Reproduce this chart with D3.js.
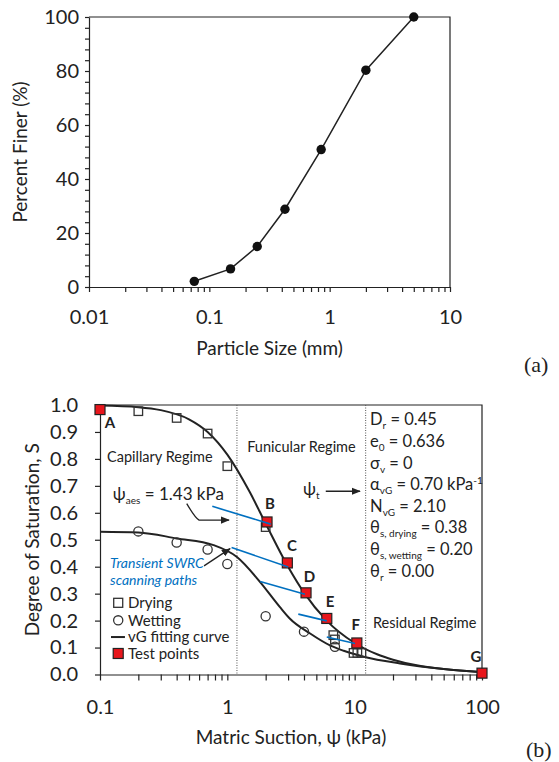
<!DOCTYPE html>
<html>
<head>
<meta charset="utf-8">
<script src="https://cdn.jsdelivr.net/npm/d3@7"></script>
<style>
  body { margin: 0; background: #fff; }
  svg text { font-family: Lato, "Noto Sans", sans-serif; fill: #222; }
  .tick line, .domain { stroke: #222; }
</style>
</head>
<body>
<div id="chart"></div>
<script>
// ---- DATA: (a) grain size distribution ----
const sieveSize = [0.075, 0.15, 0.25, 0.425, 0.85, 2.0, 5.0];
const percentFiner = [2.1, 6.7, 15.0, 28.8, 50.9, 80.3, 100];

// ---- DATA: (b) SWRC ----
const dryPsi = [0.2, 0.4, 0.7, 1.0, 2.0, 6.8, 7.0, 9.8, 10.5, 11.3];
const dryS = [0.977, 0.952, 0.894, 0.773, 0.547, 0.146, 0.13, 0.08, 0.08, 0.08];
const wetPsi = [0.2, 0.4, 0.7, 1.0, 2.0, 4.0, 7.0];
const wetS = [0.531, 0.49, 0.464, 0.41, 0.216, 0.159, 0.103];
const testLabels = ["A", "B", "C", "D", "E", "F", "G"];
const testPsi = [0.1, 2.05, 2.96, 4.15, 6.04, 10.4, 100];
const testS = [0.983, 0.566, 0.414, 0.303, 0.208, 0.117, 0.005];
const fitDryPsi = [0.1, 0.2, 0.3, 0.5, 0.7, 1.0, 1.5, 2, 3, 4, 6, 10, 15, 20, 30, 50, 100];
const fitDryS = [0.998, 0.992, 0.981, 0.947, 0.900, 0.816, 0.677, 0.560, 0.400, 0.304, 0.201, 0.117, 0.075, 0.055, 0.035, 0.020, 0.009];
const fitWetPsi = [0.1, 0.2, 0.4, 0.78, 1.19, 1.81, 2.58, 3.09, 4.47, 6.4, 8.2, 12, 22.7, 50, 100];
const fitWetS = [0.53, 0.527, 0.505, 0.48, 0.436, 0.343, 0.251, 0.208, 0.152, 0.108, 0.088, 0.065, 0.041, 0.02, 0.008];
// transient scanning paths (blue), start -> end
const scanFromPsi = [0.762, 1.08, 1.81, 3.61, 6.04];
const scanFromS = [0.624, 0.471, 0.345, 0.224, 0.139];
const scanToPsi = [2.19, 3.01, 4.07, 6.04, 10.07];
const scanToS = [0.558, 0.399, 0.298, 0.199, 0.115];
const regimeBounds = [1.19, 12.2];
const paramLines = [
  { sym: "D", sub: "r", val: " = 0.45" },
  { sym: "e", sub: "0", val: " = 0.636" },
  { sym: "σ", sub: "v", val: " = 0" },
  { sym: "α", sub: "vG", val: " = 0.70 kPa", sup: "-1" },
  { sym: "N", sub: "vG", val: " = 2.10" },
  { sym: "θ", sub: "s, drying", val: " = 0.38" },
  { sym: "θ", sub: "s, wetting", val: " = 0.20" },
  { sym: "θ", sub: "r", val: " = 0.00" }
];

const isDecade = d => Math.abs(Math.log10(d) - Math.round(Math.log10(d))) < 1e-9;
const ink = "#222";
const blue = "#0070C0";

const svg = d3.select("#chart").append("svg")
  .attr("width", 559).attr("height", 762);

// ==========================================
//         CHART (a)
// ==========================================
const mA = { top: 17, left: 89 };
const wA = 361, hA = 270;
const gA = svg.append("g").attr("transform", `translate(${mA.left},${mA.top})`);

const xSize = d3.scaleLog().domain([0.01, 10]).range([0, wA]);
const yPct = d3.scaleLinear().domain([0, 100]).range([hA, 0]);

gA.append("g")
  .attr("transform", `translate(0,${hA})`)
  .call(d3.axisBottom(xSize).tickValues(xSize.ticks()).tickSize(5).tickSizeOuter(0).tickPadding(18)
    .tickFormat(d => isDecade(d) ? String(+d.toPrecision(3)) : ""));
gA.append("g")
  .call(d3.axisLeft(yPct).tickValues(d3.range(0, 101, 4)).tickSize(4).tickSizeOuter(0).tickPadding(6)
    .tickFormat(d => d % 20 === 0 ? d : ""));
// frame top/right
gA.append("path")
  .attr("d", `M0,0H${wA}V${hA}`)
  .attr("fill", "none").attr("stroke", ink).attr("stroke-width", 1.2);

gA.selectAll(".tick text").style("font-size", "20px");
gA.selectAll(".domain, .tick line").attr("stroke-width", 1.2);

const gsd = sieveSize.map((s, i) => ({ s, p: percentFiner[i] }));
gA.append("path")
  .datum(gsd)
  .attr("d", d3.line().x(d => xSize(d.s)).y(d => yPct(d.p)))
  .attr("fill", "none").attr("stroke", ink).attr("stroke-width", 1.5);
gA.selectAll(".pt").data(gsd).enter().append("circle")
  .attr("cx", d => xSize(d.s)).attr("cy", d => yPct(d.p))
  .attr("r", 4.7).attr("fill", "#111");

gA.append("text")
  .attr("text-anchor", "middle")
  .attr("x", wA / 2).attr("y", hA + 68)
  .style("font-size", "19px")
  .text("Particle Size (mm)");
gA.append("text")
  .attr("text-anchor", "middle")
  .attr("transform", "rotate(-90)")
  .attr("x", -hA / 2).attr("y", -62)
  .style("font-size", "19px")
  .text("Percent Finer (%)");

svg.append("text")
  .attr("x", 524).attr("y", 372)
  .style("font-family", "'Liberation Serif', serif").style("font-size", "22px")
  .text("(a)");

// ==========================================
//         CHART (b)
// ==========================================
const mB = { top: 405, left: 100 };
const wB = 382, hB = 269.5;
const gB = svg.append("g").attr("transform", `translate(${mB.left},${mB.top})`);

const xPsi = d3.scaleLog().domain([0.1, 100]).range([0, wB]);
const yS = d3.scaleLinear().domain([0, 1]).range([hB, 0]);

gB.append("g")
  .attr("transform", `translate(0,${hB})`)
  .call(d3.axisBottom(xPsi).tickValues(xPsi.ticks()).tickSize(6).tickSizeOuter(0).tickPadding(19)
    .tickFormat(d => isDecade(d) ? String(+d.toPrecision(3)) : ""));
gB.append("g")
  .call(d3.axisLeft(yS).tickValues(d3.range(0, 11).map(i => i / 10)).tickSize(5).tickSizeOuter(0).tickPadding(17)
    .tickFormat(d3.format(".1f")));
gB.append("path")
  .attr("d", `M0,0H${wB}V${hB}`)
  .attr("fill", "none").attr("stroke", ink).attr("stroke-width", 1.2);
gB.selectAll(".tick text").style("font-size", "20px");
gB.selectAll(".domain, .tick line").attr("stroke-width", 1.2);

// regime boundaries
gB.selectAll(".bound").data(regimeBounds).enter().append("line")
  .attr("x1", d => xPsi(d)).attr("x2", d => xPsi(d))
  .attr("y1", 0).attr("y2", hB)
  .attr("stroke", "#555").attr("stroke-width", 1).attr("stroke-dasharray", "1,1.5");

// fitting curves
const curve = d3.line().x(d => xPsi(d[0])).y(d => yS(d[1])).curve(d3.curveMonotoneX);
gB.append("path")
  .datum(fitDryPsi.map((p, i) => [p, fitDryS[i]]))
  .attr("d", curve).attr("fill", "none").attr("stroke", ink).attr("stroke-width", 2);
gB.append("path")
  .datum(fitWetPsi.map((p, i) => [p, fitWetS[i]]))
  .attr("d", curve).attr("fill", "none").attr("stroke", ink).attr("stroke-width", 2);

// drying squares and wetting circles
const sq = 8.5;
gB.selectAll(".dry").data(dryPsi.map((p, i) => [p, dryS[i]])).enter().append("rect")
  .attr("x", d => xPsi(d[0]) - sq / 2).attr("y", d => yS(d[1]) - sq / 2)
  .attr("width", sq).attr("height", sq)
  .attr("fill", "none").attr("stroke", "#333").attr("stroke-width", 1.3);
gB.selectAll(".wet").data(wetPsi.map((p, i) => [p, wetS[i]])).enter().append("circle")
  .attr("cx", d => xPsi(d[0])).attr("cy", d => yS(d[1]))
  .attr("r", 4.6)
  .attr("fill", "none").attr("stroke", "#333").attr("stroke-width", 1.3);

// test points
const ts = 10;
const tests = testPsi.map((p, i) => ({ p, s: testS[i], lab: testLabels[i] }));
gB.selectAll(".test").data(tests).enter().append("rect")
  .attr("x", d => xPsi(d.p) - ts / 2).attr("y", d => yS(d.s) - ts / 2)
  .attr("width", ts).attr("height", ts)
  .attr("fill", "#e8161c").attr("stroke", "#222").attr("stroke-width", 1.2);

// blue scanning paths
gB.selectAll(".scan").data(scanFromPsi).enter().append("line")
  .attr("x1", (d, i) => xPsi(d)).attr("y1", (d, i) => yS(scanFromS[i]))
  .attr("x2", (d, i) => xPsi(scanToPsi[i])).attr("y2", (d, i) => yS(scanToS[i]))
  .attr("stroke", blue).attr("stroke-width", 1.6);

// test point letters
const letterPsi = [0.12, 2.16, 3.22, 4.41, 6.4, 10.2, 89.8];
const letterS = [0.933, 0.634, 0.48, 0.365, 0.269, 0.187, 0.065];
gB.selectAll(".lab").data(testLabels).enter().append("text")
  .attr("x", (d, i) => xPsi(letterPsi[i])).attr("y", (d, i) => yS(letterS[i]))
  .attr("text-anchor", "middle").attr("dy", "0.36em")
  .style("font-size", "15px").style("font-weight", "bold")
  .text(d => d);

// regime labels
const txt = (psi, s, str, size, anchor) => gB.append("text")
  .attr("x", xPsi(psi)).attr("y", yS(s)).attr("dy", "0.36em")
  .attr("text-anchor", anchor || "start")
  .style("font-size", size + "px").text(str);
txt(0.1135, 0.807, "Capillary Regime", 14.5);
txt(3.82, 0.844, "Funicular Regime", 14.5, "middle");
txt(35.5, 0.193, "Residual Regime", 14.5, "middle");

// psi_aes annotation
const aes = gB.append("text").attr("x", xPsi(0.126)).attr("y", yS(0.671)).attr("dy", "0.36em")
  .style("font-size", "17px");
aes.append("tspan").text("ψ");
aes.append("tspan").attr("dy", 4).style("font-size", "10px").text("aes");
aes.append("tspan").attr("dy", -4).text(" = 1.43 kPa");

// arrows
svg.append("defs").append("marker")
  .attr("id", "arr").attr("viewBox", "0 0 10 10").attr("refX", 9).attr("refY", 5)
  .attr("markerWidth", 7).attr("markerHeight", 7).attr("orient", "auto")
  .append("path").attr("d", "M0,1L10,5L0,9Z").attr("fill", ink);

gB.append("path")
  .attr("d", `M${xPsi(0.48)},${yS(0.634)} Q${xPsi(0.56)},${yS(0.58)} ${xPsi(0.6)},${yS(0.573)} L${xPsi(1.03)},${yS(0.573)}`)
  .attr("fill", "none").attr("stroke", ink).attr("stroke-width", 1.3).attr("marker-end", "url(#arr)");
gB.append("line")
  .attr("x1", xPsi(0.656)).attr("y1", yS(0.403)).attr("x2", xPsi(1.05)).attr("y2", yS(0.467))
  .attr("stroke", ink).attr("stroke-width", 1.3).attr("marker-end", "url(#arr)");
gB.append("line")
  .attr("x1", xPsi(5.93)).attr("y1", yS(0.68)).attr("x2", xPsi(11.0)).attr("y2", yS(0.68))
  .attr("stroke", ink).attr("stroke-width", 1.3).attr("marker-end", "url(#arr)");

const pt = gB.append("text").attr("x", xPsi(3.93)).attr("y", yS(0.69)).attr("dy", "0.36em")
  .style("font-size", "17px");
pt.append("tspan").text("ψ");
pt.append("tspan").attr("dy", 4).style("font-size", "10px").text("t");

// transient label
txt(0.12, 0.414, "Transient SWRC", 14).style("font-style", "italic").style("fill", blue);
txt(0.12, 0.35, "scanning paths", 14).style("font-style", "italic").style("fill", blue);

// parameter block
const paramS = [0.946, 0.865, 0.786, 0.707, 0.625, 0.546, 0.465, 0.384];
paramLines.forEach((p, i) => {
  const t = gB.append("text").attr("x", xPsi(13.2)).attr("y", yS(paramS[i])).attr("dy", "0.36em")
    .style("font-size", "16.5px");
  t.append("tspan").text(p.sym);
  t.append("tspan").attr("dy", 4).style("font-size", "10px").text(p.sub);
  t.append("tspan").attr("dy", -4).text(p.val);
  if (p.sup) t.append("tspan").attr("dy", -6).style("font-size", "10px").text(p.sup);
});

// legend
const legPsi = 0.139, legText = 0.166;
const legS = [0.266, 0.201, 0.139, 0.078];
gB.append("rect").attr("x", xPsi(legPsi) - 4.5).attr("y", yS(legS[0]) - 4.5).attr("width", 9).attr("height", 9)
  .attr("fill", "none").attr("stroke", "#333").attr("stroke-width", 1.3);
gB.append("circle").attr("cx", xPsi(legPsi)).attr("cy", yS(legS[1])).attr("r", 4.6)
  .attr("fill", "none").attr("stroke", "#333").attr("stroke-width", 1.3);
gB.append("line").attr("x1", xPsi(0.122)).attr("x2", xPsi(0.157)).attr("y1", yS(legS[2])).attr("y2", yS(legS[2]))
  .attr("stroke", ink).attr("stroke-width", 2);
gB.append("rect").attr("x", xPsi(legPsi) - 5).attr("y", yS(legS[3]) - 5).attr("width", 10).attr("height", 10)
  .attr("fill", "#e8161c").attr("stroke", "#222").attr("stroke-width", 1.2);
["Drying", "Wetting", "vG fitting curve", "Test points"].forEach((l, i) => txt(legText, legS[i], l, 15));

// axis titles
gB.append("text")
  .attr("text-anchor", "middle")
  .attr("x", wB / 2).attr("y", hB + 69)
  .style("font-size", "19px")
  .text("Matric Suction, ψ (kPa)");
gB.append("text")
  .attr("text-anchor", "middle")
  .attr("transform", "rotate(-90)")
  .attr("x", -hB / 2).attr("y", -61)
  .style("font-size", "19px")
  .text("Degree of Saturation, S");

svg.append("text")
  .attr("x", 526).attr("y", 757)
  .style("font-family", "'Liberation Serif', serif").style("font-size", "22px")
  .text("(b)");
</script>
</body>
</html>
